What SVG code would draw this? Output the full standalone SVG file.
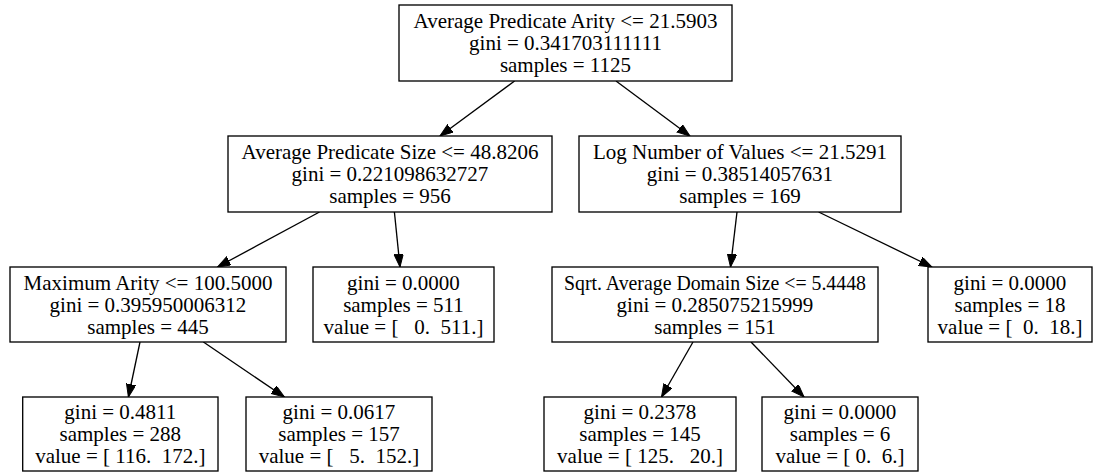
<svg xmlns="http://www.w3.org/2000/svg" width="1098" height="472" viewBox="0 0 1098 472">
<style>
.box{fill:#fff;stroke:#000;stroke-width:1.33}
text{font-family:"Liberation Serif","Times New Roman",serif;font-size:21px;fill:#000;text-anchor:middle;white-space:pre}
.edge{stroke:#000;stroke-width:1.33;fill:none;marker-end:url(#arr)}
</style>
<defs>
<marker id="arr" markerUnits="userSpaceOnUse" markerWidth="14" markerHeight="10" refX="13" refY="4.7" orient="auto">
<path d="M0,0 L13,4.7 L0,9.4 z" fill="#000" stroke="#000" stroke-width="1"/>
</marker>
</defs>
<rect width="1098" height="472" fill="#fff"/>
<g id="edges">
<line class="edge" x1="514.6" y1="81" x2="440" y2="136"/>
<line class="edge" x1="616" y1="81" x2="690" y2="136"/>
<line class="edge" x1="319.5" y1="212" x2="217.5" y2="267"/>
<line class="edge" x1="394.4" y1="212" x2="400" y2="267"/>
<line class="edge" x1="737" y1="212" x2="730.5" y2="267"/>
<line class="edge" x1="818.6" y1="212" x2="932" y2="267"/>
<line class="edge" x1="140" y1="342" x2="128.4" y2="397"/>
<line class="edge" x1="203.4" y1="342" x2="284.4" y2="397"/>
<line class="edge" x1="693" y1="342" x2="661.5" y2="397"/>
<line class="edge" x1="751" y1="342" x2="804" y2="397"/>
</g>
<g id="n0">
<rect class="box" x="399" y="5" width="333" height="76"/>
<text x="565.5" y="28">Average Predicate Arity &lt;= 21.5903</text>
<text x="565.5" y="50">gini = 0.341703111111</text>
<text x="565.5" y="72">samples = 1125</text>
</g>
<g id="n1">
<rect class="box" x="228" y="136" width="324" height="76"/>
<text x="390" y="159">Average Predicate Size &lt;= 48.8206</text>
<text x="390" y="181">gini = 0.221098632727</text>
<text x="390" y="203">samples = 956</text>
</g>
<g id="n2">
<rect class="box" x="579" y="136" width="322" height="76"/>
<text x="740" y="159">Log Number of Values &lt;= 21.5291</text>
<text x="740" y="181">gini = 0.38514057631</text>
<text x="740" y="203">samples = 169</text>
</g>
<g id="n3">
<rect class="box" x="10" y="267" width="276" height="75"/>
<text x="148" y="290">Maximum Arity &lt;= 100.5000</text>
<text x="148" y="312">gini = 0.395950006312</text>
<text x="148" y="334">samples = 445</text>
</g>
<g id="n4">
<rect class="box" x="313" y="267" width="181" height="75"/>
<text x="403.5" y="290">gini = 0.0000</text>
<text x="403.5" y="312">samples = 511</text>
<text x="403.5" y="334" xml:space="preserve">value = [   0.  511.]</text>
</g>
<g id="n5">
<rect class="box" x="552" y="267" width="326" height="75"/>
<text x="715" y="290" textLength="302" lengthAdjust="spacingAndGlyphs">Sqrt. Average Domain Size &lt;= 5.4448</text>
<text x="715" y="312">gini = 0.285075215999</text>
<text x="715" y="334">samples = 151</text>
</g>
<g id="n6">
<rect class="box" x="928" y="267" width="164" height="75"/>
<text x="1010" y="290">gini = 0.0000</text>
<text x="1010" y="312">samples = 18</text>
<text x="1010" y="334" xml:space="preserve">value = [  0.  18.]</text>
</g>
<g id="n7">
<rect class="box" x="22.7" y="397" width="195.3" height="74"/>
<text x="120.3" y="419">gini = 0.4811</text>
<text x="120.3" y="441">samples = 288</text>
<text x="120.3" y="463" xml:space="preserve">value = [ 116.  172.]</text>
</g>
<g id="n8">
<rect class="box" x="246" y="397" width="186" height="74"/>
<text x="339" y="419">gini = 0.0617</text>
<text x="339" y="441">samples = 157</text>
<text x="339" y="463" xml:space="preserve">value = [   5.  152.]</text>
</g>
<g id="n9">
<rect class="box" x="544" y="397" width="192" height="74"/>
<text x="640" y="419">gini = 0.2378</text>
<text x="640" y="441">samples = 145</text>
<text x="640" y="463" xml:space="preserve">value = [ 125.   20.]</text>
</g>
<g id="n10">
<rect class="box" x="762" y="397" width="156" height="74"/>
<text x="840" y="419">gini = 0.0000</text>
<text x="840" y="441">samples = 6</text>
<text x="840" y="463" xml:space="preserve">value = [ 0.  6.]</text>
</g>
</svg>
